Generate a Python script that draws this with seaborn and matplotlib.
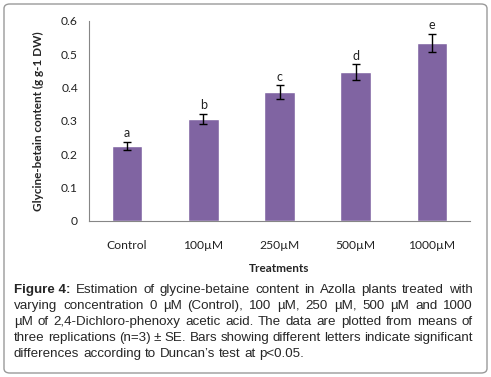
import matplotlib
matplotlib.use("Agg")
import matplotlib.pyplot as plt
import seaborn as sns
import pandas as pd
from matplotlib.patches import FancyBboxPatch

# data
treatments = ["Control", "100\u00b5M", "250\u00b5M", "500\u00b5M", "1000\u00b5M"]
glycine_betaine = [0.226, 0.306, 0.387, 0.447, 0.534]
se = [0.012, 0.016, 0.020, 0.023, 0.028]
letters = ["a", "b", "c", "d", "e"]
yticks = [0, 0.1, 0.2, 0.3, 0.4, 0.5, 0.6]

caption_lines = [
    "Figure\u00a04: Estimation of glycine-betaine content in Azolla plants treated with",
    "varying concentration 0 \u00b5M (Control), 100 \u00b5M, 250 \u00b5M, 500 \u00b5M and 1000",
    "\u00b5M of 2,4-Dichloro-phenoxy acetic acid. The data are plotted from means of",
    "three replications (n=3) \u00b1 SE. Bars showing different letters indicate significant",
    "differences according to Duncan\u2019s test at p<0.05.",
]

df = pd.DataFrame({"Treatments": treatments, "GB": glycine_betaine})

sns.set_style("white")
plt.rcParams["font.family"] = ["Lato", "DejaVu Sans"]

fig = plt.figure(figsize=(4.91, 3.77), dpi=100)
ax = fig.add_axes([89 / 491, 1 - 221 / 377, 381 / 491, 200 / 377])

sns.barplot(data=df, x="Treatments", y="GB", color="#8064A2", width=0.4,
            saturation=1, errorbar=None, ax=ax)
ax.errorbar(treatments, glycine_betaine, yerr=se, fmt="none", ecolor="black",
            elinewidth=1, capsize=3, capthick=1)

# significance letters above error bars
for i, (v, e, l) in enumerate(zip(glycine_betaine, se, letters)):
    ax.text(i, v + e + 0.008, l, ha="center", va="bottom", fontsize=9, color="#222222")

ax.set_ylim(0, 0.6)
ax.set_xlim(-0.5, 4.5)
ax.set_yticks(yticks)
ax.set_yticklabels(["0", "0.1", "0.2", "0.3", "0.4", "0.5", "0.6"])
ax.set_xticks(range(len(treatments)))
ax.set_xticklabels(treatments)
ax.set_xticks([i - 0.5 for i in range(len(treatments) + 1)], minor=True)
ax.tick_params(axis="x", which="major", length=0, pad=14, labelsize=8.7, labelcolor="#222222")
ax.tick_params(axis="x", which="minor", length=4, color="#868686", width=0.8)
ax.tick_params(axis="y", length=3, color="#868686", width=0.8, labelsize=8.7,
               labelcolor="#222222", pad=5)

sns.despine(ax=ax)
for side in ["left", "bottom"]:
    ax.spines[side].set_color("#868686")
    ax.spines[side].set_linewidth(0.8)

ax.set_xlabel("Treatments", fontsize=8.5, fontweight="bold", labelpad=8)
ax.set_ylabel("Glycine-betain content (g g-1 DW)", fontsize=8.5, fontweight="bold", labelpad=12)

# rounded frame round the whole figure
frame = FancyBboxPatch((4 / 491, 4 / 377), 483 / 491, 369 / 377,
                       boxstyle="round,pad=0,rounding_size=0.012",
                       transform=fig.transFigure, facecolor="none",
                       edgecolor="#9a9a9a", linewidth=1.0)
fig.patches.append(frame)

# justified caption
renderer = fig.canvas.get_renderer()
cap_size = 9.6
left_px, right_px = 14, 473
top_px = 290
line_gap = 16
for n, line in enumerate(caption_lines):
    words = line.split(" ")
    y = 1 - (top_px + n * line_gap) / 377
    texts = []
    for k, w in enumerate(words):
        bold = n == 0 and k == 0
        t = fig.text(0, y, w.replace("\u00a0", " "), fontsize=cap_size, family="Liberation Sans",
                     fontweight="bold" if bold else "normal", va="center", ha="left")
        texts.append(t)
    widths = [t.get_window_extent(renderer).width for t in texts]
    if n < len(caption_lines) - 1 and len(words) > 1:
        gap = (right_px - left_px - sum(widths)) / (len(words) - 1)
    else:
        gap = cap_size * 100 / 72 * 0.278
    x = left_px
    for t, w in zip(texts, widths):
        t.set_x(x / 491)
        x += w + gap

fig.savefig("out.png", dpi=100)
